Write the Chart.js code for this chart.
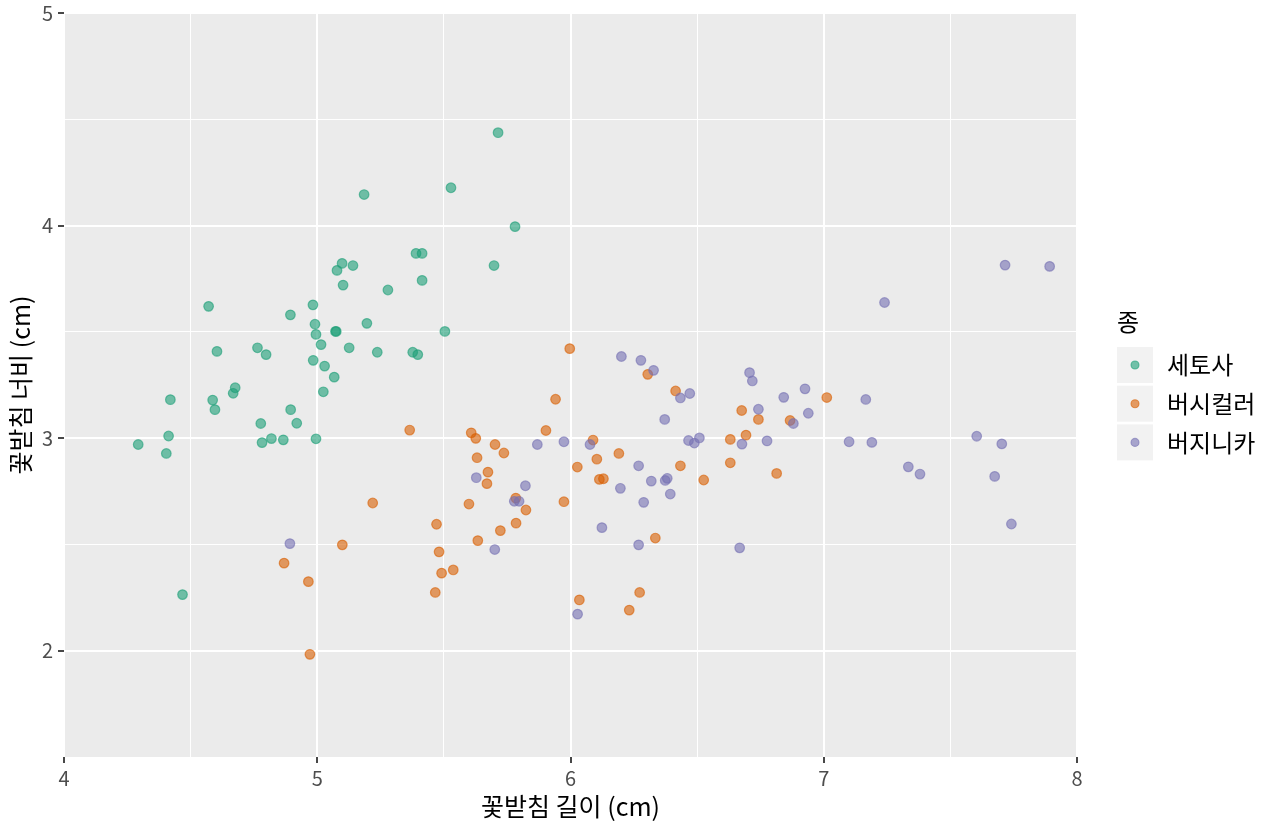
<!DOCTYPE html>
<html>
<head>
<meta charset="utf-8">
<script src="https://cdn.jsdelivr.net/npm/chart.js@4.4.1/dist/chart.umd.min.js"></script>
<style>
html,body{margin:0;padding:0;background:#fff;}
#wrap{width:1280px;height:832px;}
</style>
</head>
<body>
<div id="wrap"><canvas id="c" width="1280" height="832"></canvas></div>
<script>
// ---- data (sepal length x, sepal width y, jittered) ----
const seriesNames = ['세토사', '버시컬러', '버지니카'];
const seriesColors = ['27,158,119', '217,95,2', '117,112,179'];

const setosaX = [5.714,5.528,5.185,5.781,5.698,5.390,5.414,5.098,5.141,5.078,5.102,5.414,5.279,4.571,4.983,4.894,5.196,4.991,5.072,5.075,5.504,4.995,5.015,5.126,5.237,5.377,5.397,4.604,4.764,4.798,4.984,5.029,5.067,4.676,4.668,4.420,4.587,5.024,4.596,4.895,4.777,4.919,4.413,4.819,4.782,4.866,4.995,4.293,4.404,4.468];
const setosaY = [4.437,4.178,4.146,3.995,3.812,3.869,3.869,3.822,3.812,3.789,3.720,3.742,3.697,3.620,3.627,3.580,3.540,3.536,3.502,3.502,3.502,3.488,3.440,3.425,3.404,3.404,3.393,3.408,3.425,3.393,3.366,3.339,3.287,3.237,3.211,3.181,3.179,3.218,3.134,3.134,3.069,3.070,3.010,2.998,2.979,2.992,2.997,2.970,2.928,2.264];

const versicolorX = [5.365,5.608,5.626,5.702,5.737,5.631,5.674,5.670,5.599,5.219,5.784,5.824,5.785,5.723,5.634,5.471,5.481,5.537,5.491,5.466,5.099,4.869,4.965,4.971,5.997,6.305,6.415,5.941,5.903,6.089,6.104,6.191,6.027,6.434,6.526,6.114,6.130,5.974,6.335,6.273,6.232,6.035,7.012,6.676,6.742,6.867,6.693,6.631,6.631,6.814];
const versicolorY = [3.038,3.025,2.999,2.970,2.930,2.908,2.840,2.786,2.690,2.695,2.718,2.662,2.600,2.565,2.518,2.595,2.465,2.380,2.365,2.274,2.498,2.412,2.325,1.983,3.421,3.300,3.222,3.183,3.036,2.991,2.901,2.928,2.864,2.870,2.803,2.806,2.809,2.701,2.530,2.274,2.191,2.239,3.191,3.130,3.088,3.083,3.014,2.994,2.884,2.834];

const virginicaX = [5.869,5.628,5.822,5.778,5.797,5.701,4.892,6.201,6.278,6.328,6.434,6.471,6.372,6.466,6.489,6.509,6.077,5.974,6.269,6.319,6.374,6.382,6.197,6.394,6.289,6.124,6.269,6.028,7.716,7.892,7.240,6.707,6.718,6.926,6.842,7.166,6.742,6.939,6.880,6.677,6.776,7.100,7.190,7.604,7.703,7.334,7.380,7.675,7.741,6.668];
const virginicaY = [2.970,2.814,2.776,2.703,2.703,2.476,2.504,3.384,3.366,3.319,3.189,3.210,3.088,2.989,2.977,3.001,2.970,2.983,2.870,2.798,2.801,2.811,2.764,2.737,2.698,2.579,2.498,2.172,3.814,3.808,3.638,3.308,3.269,3.232,3.192,3.182,3.136,3.117,3.069,2.972,2.987,2.983,2.980,3.009,2.973,2.865,2.831,2.820,2.596,2.484];

const xTicks = [4, 5, 6, 7, 8];
const yTicks = [2, 3, 4, 5];
const xTitle = '꽃받침 길이 (cm)';
const yTitle = '꽃받침 너비 (cm)';
const legendTitle = '종';

// ---- build ----
const FONT = "'Noto Sans CJK KR', 'Noto Sans', sans-serif";
Chart.defaults.font.family = FONT;

function pts(xs, ys) { return xs.map((x, i) => ({ x: x, y: ys[i] })); }
const allX = [setosaX, versicolorX, virginicaX];
const allY = [setosaY, versicolorY, virginicaY];

const datasets = seriesNames.map((name, i) => ({
  label: name,
  data: pts(allX[i], allY[i]),
  backgroundColor: 'rgba(' + seriesColors[i] + ',0.6)',
  borderColor: 'rgba(' + seriesColors[i] + ',0.6)',
  borderWidth: 1.2,
  pointRadius: 4.8,
  pointHoverRadius: 4.8,
  order: 3 - i
}));

const isMajor = (v, arr) => arr.some(t => Math.abs(t - v) < 1e-9);

const ggPlugin = {
  id: 'gg',
  beforeDraw(chart) {
    const { ctx, chartArea: a } = chart;
    ctx.save();
    ctx.fillStyle = '#ffffff';
    ctx.fillRect(0, 0, chart.width, chart.height);
    ctx.fillStyle = '#EBEBEB';
    ctx.fillRect(a.left, a.top, a.right - a.left, a.bottom - a.top);
    ctx.restore();
  },
  afterDraw(chart) {
    const { ctx, chartArea: a } = chart;
    ctx.save();
    ctx.fillStyle = '#000';
    ctx.font = '25px ' + FONT;
    ctx.textAlign = 'center';
    ctx.textBaseline = 'middle';
    ctx.fillText(xTitle, (a.left + a.right) / 2, 806);
    ctx.save();
    ctx.translate(20, (a.top + a.bottom) / 2);
    ctx.rotate(-Math.PI / 2);
    ctx.fillText(yTitle, 0, 0);
    ctx.restore();

    // legend
    const lx = 1117, keyW = 36, step = 38.7, top0 = 347;
    ctx.textAlign = 'left';
    ctx.font = '24px ' + FONT;
    ctx.fillText(legendTitle, lx, 322);
    seriesNames.forEach((name, i) => {
      const ky = top0 + i * step;
      ctx.fillStyle = '#F2F2F2';
      ctx.fillRect(lx, ky, keyW, keyW);
      ctx.beginPath();
      ctx.arc(lx + keyW / 2, ky + keyW / 2, 4, 0, Math.PI * 2);
      ctx.fillStyle = 'rgba(' + seriesColors[i] + ',0.6)';
      ctx.fill();
      ctx.lineWidth = 1.1;
      ctx.strokeStyle = 'rgba(' + seriesColors[i] + ',0.6)';
      ctx.stroke();
      ctx.fillStyle = '#000';
      ctx.fillText(name, lx + 50, ky + keyW / 2);
    });
    ctx.restore();
  }
};

new Chart(document.getElementById('c'), {
  type: 'scatter',
  data: { datasets: datasets },
  plugins: [ggPlugin],
  options: {
    responsive: false,
    animation: false,
    devicePixelRatio: 1,
    layout: { padding: { top: 13, right: 203, left: 0, bottom: 0 } },
    plugins: { legend: { display: false }, tooltip: { enabled: false } },
    scales: {
      x: {
        type: 'linear', min: 4, max: 8,
        afterFit(s) { s.height = 75; s.paddingLeft = 0; s.paddingRight = 0; },
        border: { display: false },
        grid: {
          color: '#FFFFFF',
          lineWidth: c => isMajor(c.tick.value, xTicks) ? 2 : 1,
          drawTicks: true,
          tickLength: 6,
          tickWidth: 1.8,
          tickColor: c => isMajor(c.tick.value, xTicks) ? '#333333' : 'rgba(0,0,0,0)'
        },
        ticks: {
          stepSize: 0.5, autoSkip: false, maxRotation: 0,
          color: '#4D4D4D', font: { size: 20 }, padding: 3,
          callback: v => isMajor(v, xTicks) ? String(v) : ''
        }
      },
      y: {
        type: 'linear', min: 1.5, max: 5,
        afterFit(s) { s.width = 64; s.paddingTop = 0; s.paddingBottom = 0; },
        border: { display: false },
        grid: {
          color: c => Math.abs(c.tick.value - 1.5) < 1e-9 ? 'rgba(0,0,0,0)' : '#FFFFFF',
          lineWidth: c => isMajor(c.tick.value, yTicks) ? 2 : 1,
          drawTicks: true,
          tickLength: 6,
          tickWidth: 1.8,
          tickColor: c => isMajor(c.tick.value, yTicks) ? '#333333' : 'rgba(0,0,0,0)'
        },
        ticks: {
          stepSize: 0.5, autoSkip: false,
          color: '#4D4D4D', font: { size: 20 }, padding: 5,
          callback: v => isMajor(v, yTicks) ? String(v) : ''
        }
      }
    }
  }
});
</script>
</body>
</html>
